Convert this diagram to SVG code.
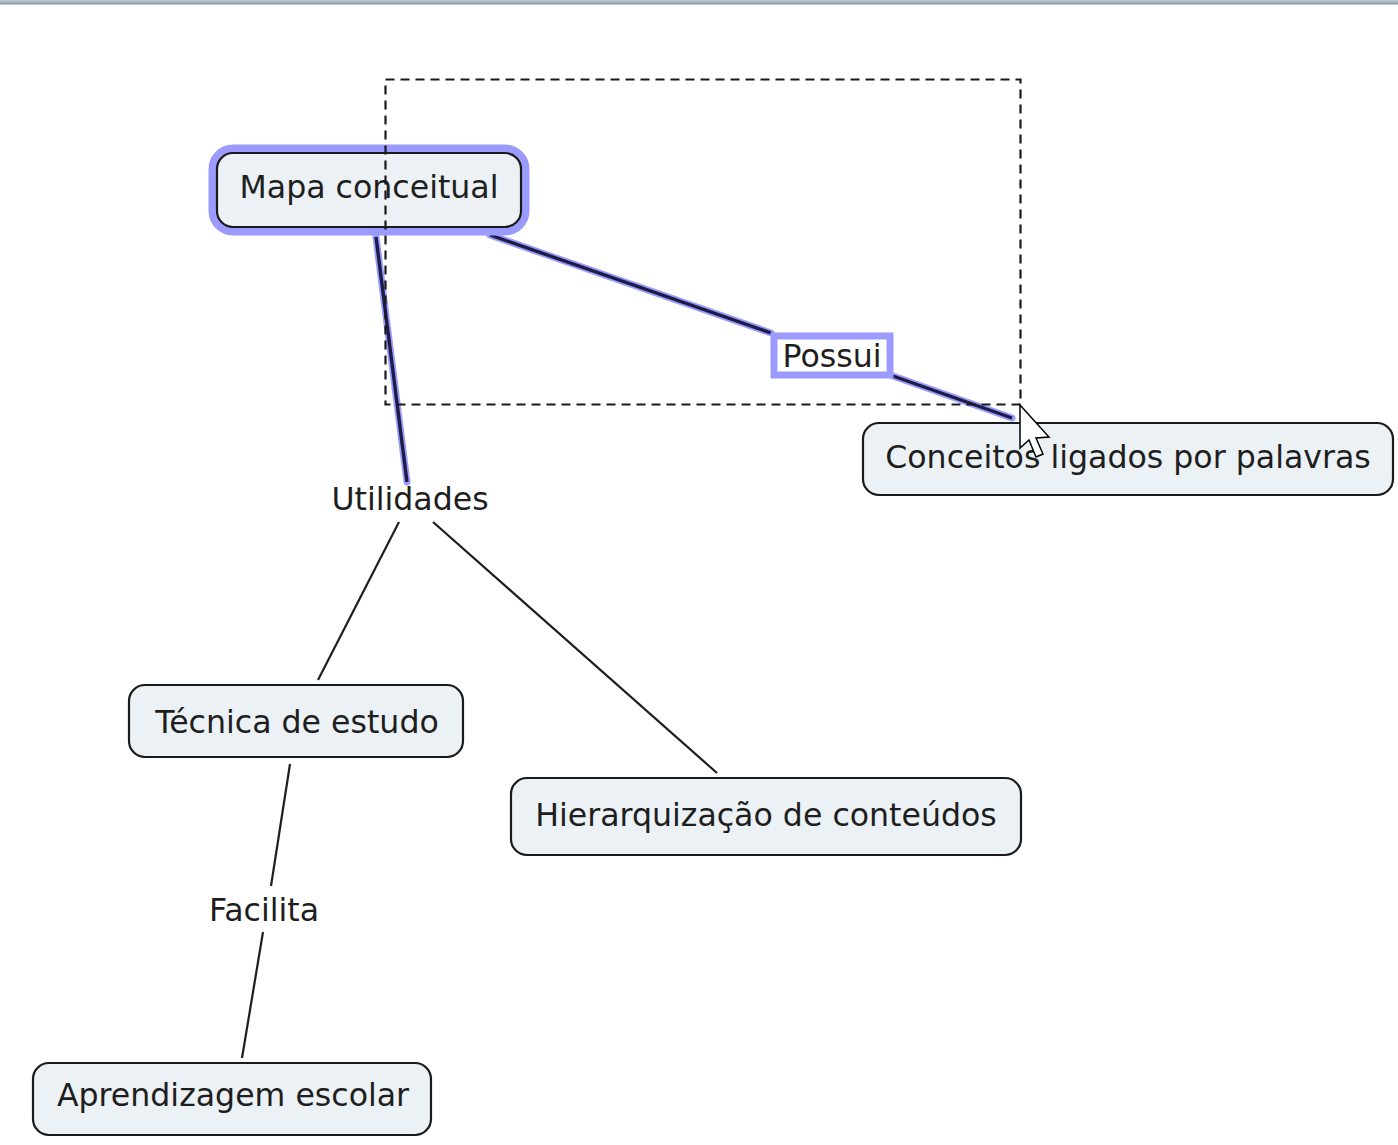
<svg xmlns="http://www.w3.org/2000/svg" width="1398" height="1145" viewBox="0 0 1398 1145">
<style>
.node{fill:#ebf1f4;stroke:#1a1a1a;stroke-width:2.2}
.t{font-family:"DejaVu Sans","Liberation Sans",sans-serif;font-size:31.6px;fill:#1e1e1e;text-anchor:middle}
.c{stroke:#1e1e1e;stroke-width:2.2;fill:none}
.hb{stroke:#9a9aff;stroke-width:7;fill:none;stroke-linecap:round}
.hd{stroke:#1c1c44;stroke-width:3.4;fill:none}
</style>
<defs>
<linearGradient id="top" x1="0" y1="0" x2="0" y2="1">
<stop offset="0" stop-color="#c9ccc6"/>
<stop offset="0.4" stop-color="#a7b3bb"/>
<stop offset="0.7" stop-color="#8fa2b5"/>
<stop offset="1" stop-color="#d4dde6"/>
</linearGradient>
</defs>
<rect width="1398" height="1145" fill="#fff"/>
<rect x="0" y="0" width="1398" height="5" fill="url(#top)"/>
<g id="connectors">
<line class="hb" x1="376" y1="237" x2="407" y2="482"/>
<line class="hd" x1="376" y1="237" x2="407" y2="482"/>
<line class="hb" x1="490" y1="235" x2="771" y2="333"/>
<line class="hd" x1="490" y1="235" x2="771" y2="333"/>
<line class="hb" x1="893" y1="376" x2="1012" y2="418"/>
<line class="hd" x1="893" y1="376" x2="1012" y2="418"/>
<line class="c" x1="399" y1="522" x2="318" y2="680"/>
<line class="c" x1="433" y1="522" x2="717" y2="773"/>
<line class="c" x1="290" y1="764" x2="271" y2="886"/>
<line class="c" x1="263" y1="932" x2="242" y2="1058"/>
</g>
<g id="mapa">
<rect x="213" y="149" width="312" height="82" rx="20" fill="none" stroke="#9a9aff" stroke-width="9"/>
<rect class="node" x="217" y="153" width="304" height="74" rx="16"/>
<text class="t" x="369" y="198">Mapa conceitual</text>
</g>
<g id="possui">
<rect x="774" y="336" width="116" height="39" fill="#fff" stroke="#9a9aff" stroke-width="7"/>
<text class="t" x="832" y="367">Possui</text>
</g>
<g id="conceitos">
<rect class="node" x="863" y="423" width="530" height="72" rx="16"/>
<text class="t" x="1128" y="468">Conceitos ligados por palavras</text>
</g>
<g id="utilidades">
<text class="t" x="410" y="510">Utilidades</text>
</g>
<g id="tecnica">
<rect class="node" x="129" y="685" width="334" height="72" rx="16"/>
<text class="t" x="297" y="733">Técnica de estudo</text>
</g>
<g id="hierarquizacao">
<rect class="node" x="511" y="778" width="510" height="77" rx="16"/>
<text class="t" x="766" y="826">Hierarquização de conteúdos</text>
</g>
<g id="facilita">
<text class="t" x="264" y="921">Facilita</text>
</g>
<g id="aprendizagem">
<rect class="node" x="33" y="1063" width="398" height="72" rx="16"/>
<text class="t" x="233" y="1106">Aprendizagem escolar</text>
</g>
<rect x="385.5" y="79.5" width="635" height="325" fill="none" stroke="#1a1a1a" stroke-width="2.2" stroke-dasharray="9 6"/>
<polygon points="1020,405 1020,448 1029,440 1036,457 1043,454 1036,438 1049,437" fill="#fff" stroke="#000" stroke-width="1.5" stroke-linejoin="miter"/>
</svg>
